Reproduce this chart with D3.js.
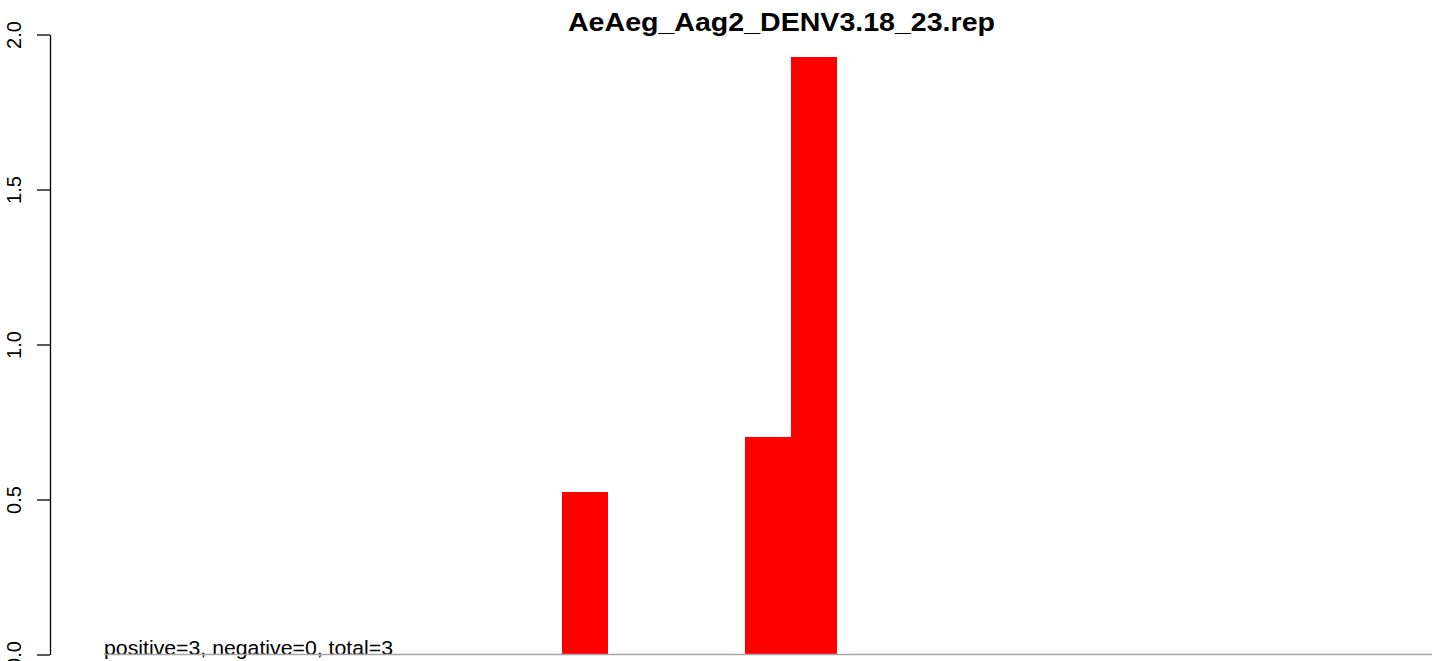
<!DOCTYPE html>
<html>
<head>
<meta charset="utf-8">
<script src="https://cdn.jsdelivr.net/npm/d3@7"></script>
<style>
  html, body { margin: 0; padding: 0; background: #fff; }
  svg { display: block; font-family: "Liberation Sans", Arial, Helvetica, sans-serif; }
</style>
</head>
<body>
<svg id="chart" width="1439" height="661"></svg>
<script>
// ---- data ----
const titleText = "AeAeg_Aag2_DENV3.18_23.rep";
const noteText = "positive=3, negative=0, total=3";
const categories = d3.range(1, 30).map(String); // 29 positions
const values = [0,0,0,0,0,0,0,0,0,0, 0.524, 0,0,0, 0.702, 1.927, 0,0,0,0,0,0,0,0,0,0,0,0,0];
const yTicks = [0, 0.5, 1, 1.5, 2];
const yTickLabels = ["0.0", "0.5", "1.0", "1.5", "2.0"];

// ---- layout ----
const svg = d3.select("#chart");
const axisX = 50;
const x = d3.scaleBand().domain(categories).range([104, 1432]).paddingInner(0).paddingOuter(0);
const y = d3.scaleLinear().domain([0, 2]).range([654.5, 34.5]);

// bars
svg.append("g").attr("shape-rendering", "crispEdges").selectAll("rect")
  .data(categories.map((c, i) => ({c, v: values[i]})).filter(d => d.v > 0))
  .join("rect")
  .attr("x", d => x(d.c))
  .attr("width", x.bandwidth() + 0.5)
  .attr("y", d => y(d.v))
  .attr("height", d => y(0) - y(d.v))
  .attr("fill", "#ff0000");

// note text
svg.append("text")
  .attr("x", x.range()[0]).attr("y", y(0))
  .attr("font-size", 20.5)
  .attr("textLength", 289)
  .attr("lengthAdjust", "spacingAndGlyphs")
  .attr("fill", "#000")
  .text(noteText);

// baseline (gray)
svg.append("line")
  .attr("x1", x.range()[0]).attr("x2", x.range()[1])
  .attr("y1", y(0)).attr("y2", y(0))
  .attr("stroke", "#a6a6a6").attr("stroke-width", 1.5);

// y axis
const yAxis = d3.axisLeft(y).tickValues(yTicks)
  .tickFormat((d, i) => yTickLabels[i]).tickSize(13).tickSizeOuter(0).tickPadding(6);
const gy = svg.append("g").attr("transform", `translate(${axisX},0)`).call(yAxis);
gy.select(".domain").attr("stroke", "#000").attr("stroke-width", 1.3);
gy.selectAll(".tick line").attr("stroke", "#000").attr("stroke-width", 1.3);
gy.selectAll(".tick text")
  .attr("font-size", 20)
  .attr("font-family", "Liberation Sans, Arial, sans-serif")
  .attr("fill", "#000")
  .attr("text-anchor", "middle")
  .attr("x", 0).attr("dy", 0)
  .attr("transform", "translate(-29,0) rotate(-90)");

// title
svg.append("text")
  .attr("x", 781.5).attr("y", 31)
  .attr("text-anchor", "middle")
  .attr("font-size", 25)
  .attr("font-weight", "bold")
  .attr("textLength", 427)
  .attr("lengthAdjust", "spacingAndGlyphs")
  .attr("fill", "#000")
  .text(titleText);
</script>
</body>
</html>
